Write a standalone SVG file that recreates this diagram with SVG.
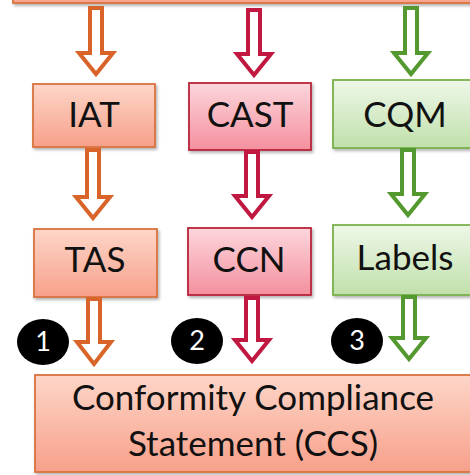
<svg xmlns="http://www.w3.org/2000/svg" width="470" height="475" viewBox="0 0 470 475">
<style>
.box{stroke-width:1.8}
.or{fill:url(#gOr);stroke:#d9733f}
.pk{fill:url(#gPk);stroke:#b8243c}
.gr{fill:url(#gGr);stroke:#7ab04c}
.t{font-family:Lato,"Open Sans",sans-serif;font-size:35px;fill:#111;text-anchor:middle}
.arr{fill:#fff;stroke-width:4;stroke-linejoin:miter}
.ao{stroke:#d8642a}
.ar{stroke:#c01840}
.ag{stroke:#54992f}
.num{font-family:Lato,"Open Sans",sans-serif;font-size:27px;fill:#fff;text-anchor:middle}
</style>
<defs>
<linearGradient id="gOr" x1="0" y1="0" x2="0" y2="1"><stop offset="0" stop-color="#fdd6c8"/><stop offset="1" stop-color="#f7a08a"/></linearGradient>
<linearGradient id="gPk" x1="0" y1="0" x2="0" y2="1"><stop offset="0" stop-color="#fcd6dc"/><stop offset="1" stop-color="#f4909e"/></linearGradient>
<linearGradient id="gGr" x1="0" y1="0" x2="0" y2="1"><stop offset="0" stop-color="#eef7e8"/><stop offset="1" stop-color="#c0e0ab"/></linearGradient>
<filter id="sh" x="-10%" y="-10%" width="130%" height="140%"><feDropShadow dx="1.5" dy="2" stdDeviation="1.5" flood-color="#000" flood-opacity="0.3"/></filter>
</defs>

<g id="top"><rect class="box or" x="13" y="-20" width="470" height="23" filter="url(#sh)"/></g>

<g id="iat"><rect class="box or" x="33" y="84" width="122" height="63" filter="url(#sh)"/><text class="t" x="94" y="127">IAT</text></g>
<g id="cast"><rect class="box pk" x="189" y="83" width="122" height="67" filter="url(#sh)"/><text class="t" x="250" y="127">CAST</text></g>
<g id="cqm"><rect class="box gr" x="333" y="80" width="145" height="68" filter="url(#sh)"/><text class="t" x="405" y="127">CQM</text></g>

<g id="tas"><rect class="box or" x="34" y="229" width="123" height="68" filter="url(#sh)"/><text class="t" x="95" y="272">TAS</text></g>
<g id="ccn"><rect class="box pk" x="188" y="228" width="123" height="67" filter="url(#sh)"/><text class="t" x="249" y="272">CCN</text></g>
<g id="labels"><rect class="box gr" x="333" y="225" width="145" height="70" filter="url(#sh)"/><text class="t" x="405" y="270">Labels</text></g>

<g id="ccs"><rect class="box or" x="35" y="375" width="445" height="97" filter="url(#sh)"/>
<text class="t" x="253" y="410">Conformity Compliance</text>
<text class="t" x="253" y="456">Statement (CCS)</text></g>

<g id="badge1"><ellipse cx="43" cy="342" rx="26" ry="23" fill="#000"/><text class="num" x="43" y="351">1</text></g>
<g id="badge2"><ellipse cx="197" cy="341" rx="26" ry="23" fill="#000"/><text class="num" x="197" y="350">2</text></g>
<g id="badge3"><ellipse cx="357" cy="341" rx="26" ry="23" fill="#000"/><text class="num" x="357" y="350">3</text></g>

<g id="connectors">
<path class="arr ao" d="M90,8 H102 V53 H113 L96,74 L79,53 H90 Z"/>
<path class="arr ar" d="M248,10 H260 V54 H271 L254,75 L237,54 H248 Z"/>
<path class="arr ag" d="M405,8 H417 V53 H428 L411,74 L394,53 H405 Z"/>
<path class="arr ao" d="M87,150 H99 V197 H110 L93,218 L76,197 H87 Z"/>
<path class="arr ar" d="M246,152 H258 V196 H269 L252,217 L235,196 H246 Z"/>
<path class="arr ag" d="M402,150 H414 V194 H425 L408,215 L391,194 H402 Z"/>
<path class="arr ao" d="M88,299 H100 V342 H111 L94,364 L77,342 H88 Z"/>
<path class="arr ar" d="M246,298 H258 V340 H269 L252,361 L235,340 H246 Z"/>
<path class="arr ag" d="M403,297 H415 V338 H426 L409,359 L392,338 H403 Z"/>
</g>
</svg>
